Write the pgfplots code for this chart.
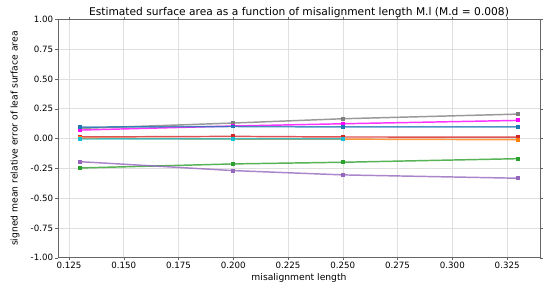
\documentclass[border=0pt]{standalone}
\usepackage{pgfplots}
\pgfplotsset{compat=1.18}
\usetikzlibrary{calc}
\usepackage{fontspec}
\setmainfont{DejaVu Sans}
\definecolor{tblue}{HTML}{1F77B4}
\definecolor{torange}{HTML}{FF7F0E}
\definecolor{tgreen}{HTML}{2CA02C}
\definecolor{tred}{HTML}{D62728}
\definecolor{tpurple}{HTML}{9467BD}
\definecolor{tgray}{HTML}{7F7F7F}
\definecolor{tcyan}{HTML}{17BECF}
\definecolor{tmag}{HTML}{FF00FF}
\begin{document}
\begin{tikzpicture}
\begin{axis}[
  name=ax,
  scale only axis,
  width=361.5pt, height=178.8pt,
  xmin=0.12, xmax=0.34, ymin=-1, ymax=1,
  xtick={0.125,0.15,0.175,0.2,0.225,0.25,0.275,0.3,0.325},
  ytick={-1,-0.75,-0.5,-0.25,0,0.25,0.5,0.75,1},
  xticklabel style={/pgf/number format/fixed,/pgf/number format/fixed zerofill,/pgf/number format/precision=3,inner sep=1pt},
  yticklabel style={/pgf/number format/fixed,/pgf/number format/fixed zerofill,/pgf/number format/precision=2,inner sep=1.5pt},
  /pgf/number format/assume math mode=true,
  scaled x ticks=false,
  grid=major,
  major grid style={gray!25},
  axis line style={gray!80!black},
  tick style={gray!80!black},
  tick align=outside,
  major tick length=2pt,
  tick label style={font=\fontsize{6.5}{7.5}\selectfont},
  label style={font=\fontsize{6.9}{8}\selectfont},
  xlabel style={at={(axis description cs:0.5,-0.0852)}, anchor=center},
  ylabel style={at={(axis description cs:-0.0892,0.5)}, anchor=center},
  every axis title shift=0pt,
  title style={font=\fontsize{8}{9.5}\selectfont, at={(axis description cs:0.5,1.0264)}, anchor=center},
  title={Estimated surface area as a function of misalignment length M.l (M.d = 0.008)},
  xlabel={misalignment length},
  ylabel={signed mean relative error of leaf surface area},
  every axis plot/.append style={line width=1.1pt, opacity=0.8, mark=square*, mark size=0.9pt, mark options={opacity=1}},
]
\addplot[color=tgray] coordinates {(0.13,0.085)(0.2,0.13)(0.25,0.166)(0.33,0.205)};
\addplot[color=tmag] coordinates {(0.13,0.071)(0.2,0.105)(0.25,0.124)(0.33,0.152)};
\addplot[color=tblue] coordinates {(0.13,0.096)(0.2,0.101)(0.25,0.097)(0.33,0.097)};
\addplot[color=tred] coordinates {(0.13,0.013)(0.2,0.018)(0.25,0.013)(0.33,0.012)};
\addplot[color=torange] coordinates {(0.13,0.002)(0.2,-0.004)(0.25,-0.005)(0.33,-0.010)};
\addplot[color=tcyan] coordinates {(0.13,-0.004)(0.2,-0.002)(0.25,-0.002)};
\addplot[color=tgreen] coordinates {(0.13,-0.247)(0.2,-0.213)(0.25,-0.199)(0.33,-0.169)};
\addplot[color=tpurple] coordinates {(0.13,-0.194)(0.2,-0.269)(0.25,-0.305)(0.33,-0.333)};
\end{axis}
\pgfresetboundingbox
\useasboundingbox ($(ax.south west)+(-43.5pt,-23.5pt)$) rectangle ($(ax.north east)+(3pt,14.5pt)$);
\end{tikzpicture}
\end{document}
